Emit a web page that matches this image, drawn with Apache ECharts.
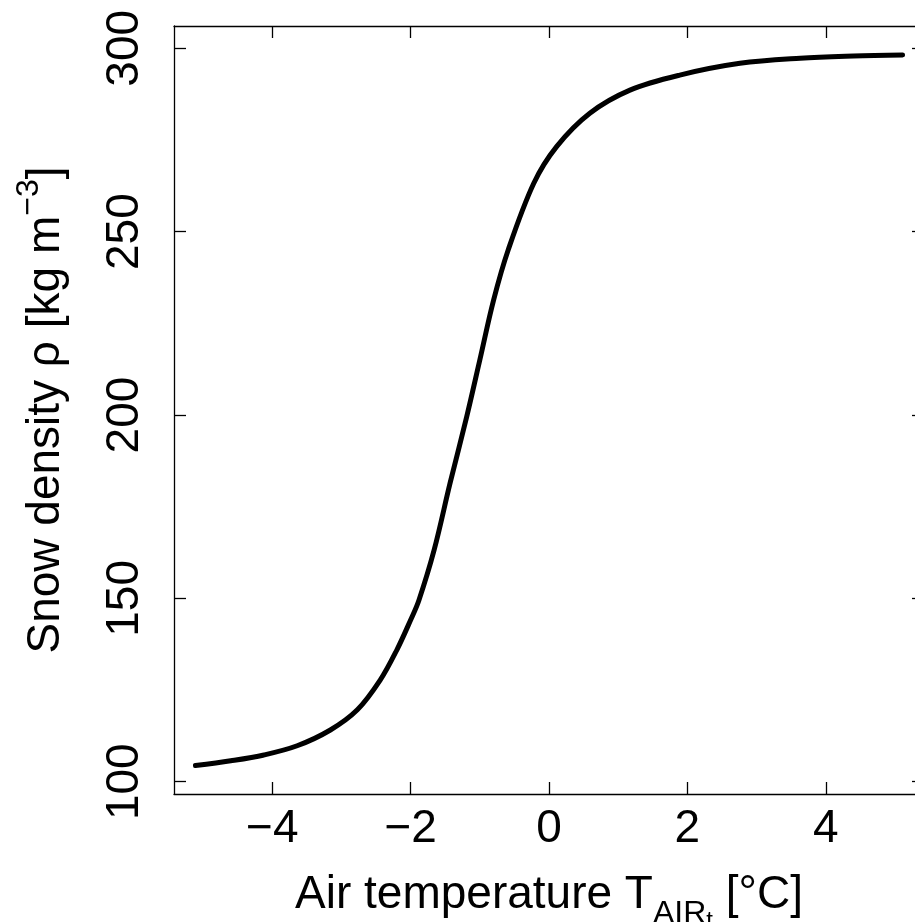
<!DOCTYPE html>
<html>
<head>
<meta charset="utf-8">
<script src="https://cdn.jsdelivr.net/npm/echarts@6/dist/echarts.min.js"></script>
<style>
  html, body { margin: 0; padding: 0; background: #fff; }
  #chart { width: 915px; height: 922px; }
</style>
</head>
<body>
<div id="chart"></div>
<script>
// values
var temps   = [-5.11, -4.6, -4.12, -3.64, -3.16, -2.77, -2.44, -2.2, -2.0, -1.88, -1.66, -1.43, -1.19, -1.0, -0.8, -0.59, -0.22, 0.11, 0.59, 1.17, 1.89, 2.76, 3.63, 4.4, 5.11];
var density = [104.4, 105.7, 107.3, 109.8, 114.1, 119.6, 127.7, 135.9, 144.1, 149.5, 163.2, 181.4, 199.5, 215.0, 231.4, 245.0, 263.2, 273.2, 282.3, 288.6, 292.7, 295.9, 297.3, 297.9, 298.2];
var xTicks = [-4, -2, 0, 2, 4];
var yTicks = [100, 150, 200, 250, 300];

var xMin = -5.42, xMax = 5.42;
var yMin = 96.65, yMax = 306.08;

var font = 'Liberation Sans';
var minus = function (v) { return String(v).replace('-', '\u2212'); };

var pts = [];
for (var i = 0; i < temps.length; i++) pts.push([temps[i], density[i]]);

function frameAxis(pos, min, max, ticks, showLabels) {
  return {
    type: 'value',
    position: pos,
    min: min,
    max: max,
    splitLine: { show: false },
    axisLine: { show: true, onZero: false, lineStyle: { color: '#000', width: 1.3 } },
    axisTick: { show: true, inside: true, length: 12, customValues: ticks, lineStyle: { color: '#000', width: 1.3 } },
    axisLabel: { show: showLabels, customValues: ticks, formatter: minus,
      color: '#000', fontFamily: font, fontSize: 46 }
  };
}

var myChart = echarts.init(document.getElementById('chart'));

var xBottom = frameAxis('bottom', xMin, xMax, xTicks, true);
xBottom.axisLabel.margin = 12;
xBottom.name = 'Air temperature T{sub|AIR}{subsub|t} [°C]';
xBottom.nameLocation = 'middle';
xBottom.nameGap = 51;
xBottom.nameTextStyle = {
  color: '#000', fontFamily: font, fontSize: 46, lineHeight: 76,
  rich: {
    sub: { color: '#000', fontFamily: font, fontSize: 32, verticalAlign: 'bottom', padding: [0, 0, 3, 0] },
    subsub: { color: '#000', fontFamily: font, fontSize: 24, verticalAlign: 'bottom' }
  }
};

var yLeft = frameAxis('left', yMin, yMax, yTicks, true);
yLeft.axisLabel.rotate = 90;
yLeft.axisLabel.margin = 26;
yLeft.name = 'Snow density ρ [kg m{sup|\u22123}]';
yLeft.nameLocation = 'middle';
yLeft.nameGap = 95;
yLeft.nameTextStyle = {
  color: '#000', fontFamily: font, fontSize: 46, lineHeight: 66,
  rich: {
    sup: { color: '#000', fontFamily: font, fontSize: 32, lineHeight: 22, verticalAlign: 'top' }
  }
};

var option = {
  animation: false,
  backgroundColor: '#fff',
  // right frame edge sits just past the canvas, as in the original
  grid: { left: 174, top: 26, right: -9, bottom: 128, containLabel: false, outerBoundsMode: 'none' },
  xAxis: [xBottom, frameAxis('top', xMin, xMax, xTicks, false)],
  yAxis: [yLeft, frameAxis('right', yMin, yMax, yTicks, false)],
  series: [
    {
      name: 'density',
      type: 'line',
      xAxisIndex: 0,
      yAxisIndex: 0,
      data: pts,
      smooth: 0.35,
      showSymbol: false,
      lineStyle: { color: '#000', width: 5, cap: 'round', join: 'round' }
    }
  ]
};
myChart.setOption(option);
</script>
</body>
</html>
